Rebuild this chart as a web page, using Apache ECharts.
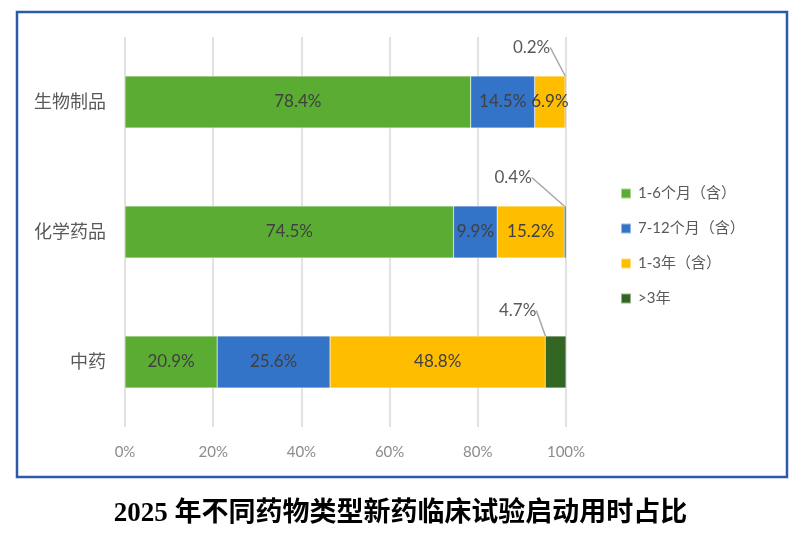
<!DOCTYPE html>
<html>
<head>
<meta charset="utf-8">
<style>
html, body { margin: 0; padding: 0; background: #fff; }
#chart { width: 801px; height: 545px; }
</style>
<script src="https://cdn.jsdelivr.net/npm/echarts@6/dist/echarts.min.js"></script>
</head>
<body>
<div id="chart"></div>
<script>
// 数据
var categories = ['生物制品', '化学药品', '中药'];
var seriesNames = ['1-6个月（含）', '7-12个月（含）', '1-3年（含）', '>3年'];
var m1to6 = [78.4, 74.5, 20.9];
var m7to12 = [14.5, 9.9, 25.6];
var y1to3 = [6.9, 15.2, 48.8];
var over3 = [0.2, 0.4, 4.7];
var xTicks = [0, 20, 40, 60, 80, 100];

var colors = ['#5bac33', '#3373c8', '#ffbd00', '#336622'];
var baseFont = "Lato, 'Noto Sans CJK SC', sans-serif";

// 小数值标签挪到上方，带引导线
var outsideOffsets = [[-34, -15], [-52, -15], [-38, -12]];

var myChart = echarts.init(document.getElementById('chart'));

function makeSeries(idx, values) {
    var s = {
        name: seriesNames[idx],
        type: 'bar',
        stack: 'total',
        barWidth: '40%',
        itemStyle: {
            color: colors[idx],
            borderColor: 'rgba(255,255,255,0.5)',
            borderWidth: 0.5
        },
        label: {
            show: true,
            position: 'inside',
            formatter: '{c}%',
            color: '#404040',
            fontSize: 17,
            fontFamily: baseFont
        },
        data: values
    };
    if (idx === 3) {
        s.label.position = 'top';
        s.label.color = '#595959';
        s.labelLine = {
            show: true,
            lineStyle: { color: '#a6a6a6', width: 1.5 }
        };
        s.labelLayout = function(params) {
            var o = outsideOffsets[params.dataIndex];
            return { dx: o[0], dy: o[1] };
        };
    }
    return s;
}

var option = {
    animation: false,
    color: colors,
    textStyle: { fontFamily: baseFont },
    title: {
        text: '2025 年不同药物类型新药临床试验启动用时占比',
        left: 'center',
        top: 496,
        textStyle: {
            fontSize: 27,
            fontWeight: 'bold',
            color: '#000',
            fontFamily: "'Liberation Serif', 'Noto Sans CJK SC', serif"
        }
    },
    graphic: [{
        type: 'rect',
        shape: { x: 17, y: 12, width: 770, height: 465 },
        style: { fill: 'none', stroke: '#2d5aa8', lineWidth: 2.5 },
        z: -1
    }],
    legend: {
        orient: 'vertical',
        left: 615,
        top: 181,
        itemWidth: 10,
        itemHeight: 10,
        itemGap: 20,
        icon: 'rect',
        textStyle: {
            fontSize: 15,
            color: '#595959',
            padding: [0, 0, 0, 2]
        },
        data: seriesNames
    },
    grid: {
        left: 125,
        right: 235,
        top: 37,
        bottom: 118
    },
    xAxis: {
        type: 'value',
        min: xTicks[0],
        max: xTicks[xTicks.length - 1],
        interval: 20,
        axisLine: { show: false },
        axisTick: { show: false },
        axisLabel: {
            formatter: '{value}%',
            color: '#8c8c8c',
            fontSize: 15,
            margin: 18
        },
        splitLine: {
            lineStyle: { color: '#d9d9d9', width: 1.5 }
        }
    },
    yAxis: {
        type: 'category',
        inverse: true,
        data: categories,
        axisLine: { show: false },
        axisTick: { show: false },
        axisLabel: {
            color: '#595959',
            fontSize: 18,
            margin: 19
        }
    },
    series: [
        makeSeries(0, m1to6),
        makeSeries(1, m7to12),
        makeSeries(2, y1to3),
        makeSeries(3, over3)
    ]
};
myChart.setOption(option);
</script>
</body>
</html>
